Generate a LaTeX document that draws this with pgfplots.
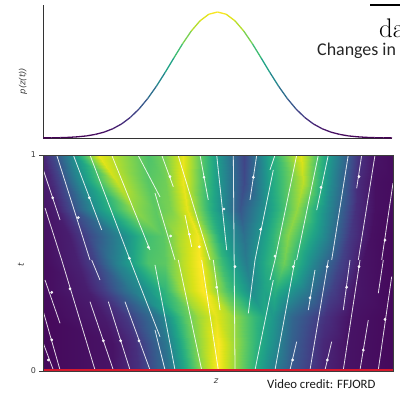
\documentclass[border=0pt]{standalone}
\usepackage{pgfplots}
\pgfplotsset{compat=1.18}
\usepackage{pgfplotstable}
\usepackage{fontspec}
\newfontfamily\dv{DejaVu Sans}
\newfontfamily\carlito{Carlito}
\definecolor{tickgray}{RGB}{60,60,60}
\definecolor{flowred}{RGB}{215,25,45}

% density p(z(t)) read on a mesh whose columns follow the ridges and valleys
\pgfplotstableread{
z t v
-4 0 0.02
-2.4 0 0.05
-1.8 0 0.14
-1.15 0 0.37
-0.9 0 0.52
-0.65 0 0.67
-0.35 0 0.85
0.0 0 1.00
0.4 0 0.84
0.8 0 0.66
1.05 0 0.53
1.25 0 0.43
1.7 0 0.27
2.4 0 0.10
2.9 0 0.05
4 0 0.02
-4 0.125 0.02
-2.4 0.125 0.05
-1.9 0.125 0.13
-1.2 0.125 0.38
-0.95 0.125 0.54
-0.7 0.125 0.70
-0.4 0.125 0.85
0.0 0.125 1.00
0.4 0.125 0.85
0.8 0.125 0.68
1.05 0.125 0.58
1.25 0.125 0.50
1.7 0.125 0.30
2.4 0.125 0.11
2.9 0.125 0.05
4 0.125 0.02
-4 0.25 0.02
-2.6 0.25 0.07
-2.1 0.25 0.16
-1.3 0.25 0.42
-1.0 0.25 0.60
-0.75 0.25 0.74
-0.45 0.25 0.85
-0.05 0.25 0.96
0.35 0.25 0.85
0.8 0.25 0.68
1.05 0.25 0.60
1.25 0.25 0.53
1.7 0.25 0.33
2.45 0.25 0.14
3.0 0.25 0.05
4 0.25 0.02
-4 0.375 0.03
-3.0 0.375 0.08
-2.6 0.375 0.18
-2.0 0.375 0.40
-1.6 0.375 0.52
-1.2 0.375 0.66
-0.8 0.375 0.88
-0.35 0.375 1.00
0.2 0.375 0.72
0.75 0.375 0.48
1.05 0.375 0.58
1.3 0.375 0.63
2.0 0.375 0.42
2.6 0.375 0.19
3.1 0.375 0.06
4 0.375 0.02
-4 0.5 0.03
-3.2 0.5 0.09
-2.8 0.5 0.20
-2.3 0.5 0.44
-1.6 0.5 0.72
-1.2 0.5 0.75
-0.8 0.5 0.90
-0.4 0.5 1.00
0.1 0.5 0.68
0.65 0.5 0.42
1.1 0.5 0.62
1.5 0.5 0.78
2.2 0.5 0.45
2.8 0.5 0.20
3.3 0.5 0.05
4 0.5 0.02
-4 0.625 0.04
-3.4 0.625 0.08
-3.0 0.625 0.20
-2.2 0.625 0.47
-1.6 0.625 0.70
-1.25 0.625 0.74
-0.9 0.625 0.88
-0.45 0.625 0.98
0.05 0.625 0.60
0.6 0.625 0.37
1.1 0.625 0.58
1.6 0.625 0.82
2.4 0.625 0.48
3.0 0.625 0.17
3.5 0.625 0.04
4 0.625 0.02
-4 0.75 0.05
-3.7 0.75 0.08
-3.4 0.75 0.20
-2.8 0.75 0.50
-1.95 0.75 0.84
-1.45 0.75 0.75
-1.1 0.75 0.80
-0.7 0.75 0.96
-0.15 0.75 0.62
0.5 0.75 0.27
1.1 0.75 0.52
1.8 0.75 0.84
2.5 0.75 0.48
3.15 0.75 0.13
3.6 0.75 0.04
4 0.75 0.03
-4 0.875 0.07
-3.8 0.875 0.12
-3.6 0.875 0.20
-3.2 0.875 0.45
-2.3 0.875 0.92
-1.6 0.875 0.74
-1.2 0.875 0.78
-0.8 0.875 0.97
-0.2 0.875 0.65
0.6 0.875 0.22
1.2 0.875 0.58
1.95 0.875 0.90
2.6 0.875 0.46
3.2 0.875 0.12
3.6 0.875 0.04
4 0.875 0.03
-4 1 0.10
-3.9 1 0.15
-3.8 1 0.20
-3.4 1 0.45
-2.75 1 0.97
-1.6 1 0.72
-1.2 1 0.80
-0.8 1 0.97
-0.2 1 0.65
0.6 1 0.20
1.2 1 0.60
1.9 1 0.96
2.6 1 0.50
3.2 1 0.15
3.6 1 0.05
4 1 0.03
}\heat

\pgfplotstableread{
z p
-4.0 0.0003
-3.8 0.0005
-3.6 0.0011
-3.4 0.0020
-3.2 0.0037
-3.0 0.0064
-2.8 0.0109
-2.6 0.0177
-2.4 0.0279
-2.2 0.0423
-2.0 0.0619
-1.8 0.0874
-1.6 0.1190
-1.4 0.1562
-1.2 0.1977
-1.0 0.2414
-0.8 0.2842
-0.6 0.3227
-0.4 0.3534
-0.2 0.3731
0.0 0.3799
0.2 0.3731
0.4 0.3534
0.6 0.3227
0.8 0.2842
1.0 0.2414
1.2 0.1977
1.4 0.1562
1.6 0.1190
1.8 0.0874
2.0 0.0619
2.2 0.0423
2.4 0.0279
2.6 0.0177
2.8 0.0109
3.0 0.0064
3.2 0.0037
3.4 0.0020
3.6 0.0011
3.8 0.0005
4.0 0.0003
}\gauss

\begin{document}
\begin{tikzpicture}[x=1bp,y=1bp]
\useasboundingbox (0,0) rectangle (400,-394);
\fill[white] (0,0) rectangle (400,-394);

\begin{axis}[at={(43bp,-138bp)}, anchor=south west, scale only axis,
  width=349bp, height=133bp, xmin=-4, xmax=4, ymin=0, ymax=0.401,
  axis x line*=bottom, axis y line*=left, xtick=\empty, ytick=\empty,
  axis line style={-, black!80, line width=0.7bp},
  colormap/viridis, point meta min=0, point meta max=0.38]
\addplot[mesh, point meta=\thisrow{p}, line width=1.3bp] table[x=z,y=p] {\gauss};
\end{axis}

\begin{axis}[at={(43bp,-371bp)}, anchor=south west, scale only axis,
  width=350bp, height=216bp, xmin=-4, xmax=4, ymin=0, ymax=1,
  xtick=\empty, ytick={0,1}, yticklabels={0,1}, ytick pos=left,
  tick align=outside, major tick length=3.5bp,
  tick style={tickgray, line width=0.6bp},
  yticklabel style={font=\dv\fontsize{8}{8}\selectfont, text=tickgray},
  axis line style={tickgray, line width=0.6bp},
  colormap/viridis, point meta min=0, point meta max=1, axis on top]
\addplot[surf, shader=interp, mesh/cols=16, point meta=\thisrow{v}] table[x=z,y=t] {\heat};
\addplot[white, opacity=0.85, line width=0.8bp, unbounded coords=jump] coordinates {
(-3.993,0.931) (-3.611,0.699) (nan,nan)
(-3.954,0.755) (-3.573,0.514) (nan,nan)
(-3.687,1.0) (-2.926,0.514) (nan,nan)
(-3.307,1.0) (-2.658,0.653) (nan,nan)
(-2.926,1.0) (-2.011,0.514) (nan,nan)
(-2.430,1.0) (-1.554,0.560) (nan,nan)
(-1.829,1.0) (-1.326,0.806) (nan,nan)
(-1.287,1.0) (-1.022,0.853) (nan,nan)
(-0.914,1.0) (-0.183,0.514) (nan,nan)
(-1.440,0.824) (-0.983,0.514) (nan,nan)
(-0.411,1.0) (-0.222,0.792) (nan,nan)
(-0.754,0.722) (-0.601,0.575) (nan,nan)
(-0.030,1.0) (0.199,0.560) (nan,nan)
(0.350,1.0) (0.389,0.005) (nan,nan)
(0.885,1.0) (0.731,0.792) (nan,nan)
(1.264,0.931) (0.846,0.514) (nan,nan)
(1.303,1.0) (1.189,0.931) (nan,nan)
(1.799,1.0) (1.303,0.514) (nan,nan)
(2.293,1.0) (1.799,0.514) (nan,nan)
(2.521,1.0) (2.256,0.745) (nan,nan)
(2.978,1.0) (2.599,0.514) (nan,nan)
(3.285,1.0) (3.170,0.846) (nan,nan)
(3.589,1.0) (3.207,0.514) (nan,nan)
(4.0,0.870) (3.742,0.514) (nan,nan)
(-3.993,0.275) (-3.611,0.005) (nan,nan)
(-3.993,0.128) (-3.764,0.005) (nan,nan)
(-3.954,0.421) (-3.611,0.221) (nan,nan)
(-3.573,0.514) (-2.811,0.005) (nan,nan)
(-2.887,0.514) (-2.697,0.421) (nan,nan)
(-2.926,0.321) (-2.393,0.005) (nan,nan)
(-2.507,0.321) (-2.011,0.005) (nan,nan)
(-2.126,0.321) (-1.554,0.005) (nan,nan)
(-2.011,0.514) (-1.326,0.159) (nan,nan)
(-1.440,0.491) (-0.983,0.005) (nan,nan)
(-1.440,0.190) (-1.211,0.005) (nan,nan)
(-0.907,0.514) (-0.373,0.005) (nan,nan)
(-0.373,0.514) (0.007,0.005) (nan,nan)
(-0.107,0.514) (0.046,0.282) (nan,nan)
(0.846,0.514) (0.693,0.267) (nan,nan)
(1.264,0.421) (0.846,0.005) (nan,nan)
(1.303,0.514) (1.189,0.421) (nan,nan)
(1.760,0.514) (1.303,0.005) (nan,nan)
(2.217,0.468) (2.064,0.282) (nan,nan)
(2.521,0.514) (2.103,0.005) (nan,nan)
(3.017,0.514) (2.864,0.282) (nan,nan)
(3.246,0.514) (2.864,0.005) (nan,nan)
(3.778,0.514) (3.664,0.360) (nan,nan)
(3.970,0.437) (3.664,0.005) (nan,nan)
(3.435,0.236) (3.246,0.005) (nan,nan)
(2.599,0.136) (2.446,0.005) (nan,nan)
(1.799,0.136) (1.646,0.005)
};
\addplot[only marks, mark=*, mark size=1.2bp, white, opacity=0.9] coordinates {
(-3.778,0.802) (-3.193,0.710) (-2.942,0.802) (-2.027,0.522) (-1.593,0.573)
(-1.097,0.900) (-1.081,0.625) (-0.320,0.897) (-0.656,0.633) (0.137,0.750)
(0.389,0.483) (0.807,0.897) (0.976,0.656) (1.303,0.532) (2.354,0.850)
(3.223,0.900) (3.817,0.606) (-3.801,0.144) (-3.879,0.051) (-3.801,0.364)
(-3.383,0.380) (-2.622,0.140) (-2.224,0.140) (-1.806,0.140) (-0.030,0.388)
(1.721,0.483) (2.103,0.339) (2.498,0.483) (2.941,0.388) (3.223,0.483)
(3.817,0.239) (3.321,0.097) (2.498,0.051) (1.707,0.051) (-0.427,0.575)
};
\addplot[flowred, line width=1.8bp] coordinates {(-4,0.004) (4,0.004)};
\end{axis}

\node[rotate=90, font=\dv\itshape\fontsize{8.5}{9}\selectfont, text=tickgray] at (23,-81) {p(z(t))};
\node[rotate=90, font=\dv\itshape\fontsize{8.5}{9}\selectfont, text=tickgray] at (21,-265) {t};
\node[font=\dv\itshape\fontsize{8.5}{9}\selectfont, text=tickgray] at (216,-381) {z};
\node[anchor=base west, inner sep=0, font=\carlito\fontsize{18}{20}\selectfont, text=black!85] at (317,-55) {Changes in};
\node[anchor=base west, inner sep=0, font=\fontsize{27}{30}\selectfont] at (379,-37) {da};
\draw[line width=1.3bp] (370,-5) -- (410,-5);
\node[anchor=base west, inner sep=0, font=\carlito\fontsize{12.8}{14}\selectfont, text=black!90] at (267,-388) {Video credit: FFJORD};
\end{tikzpicture}
\end{document}
